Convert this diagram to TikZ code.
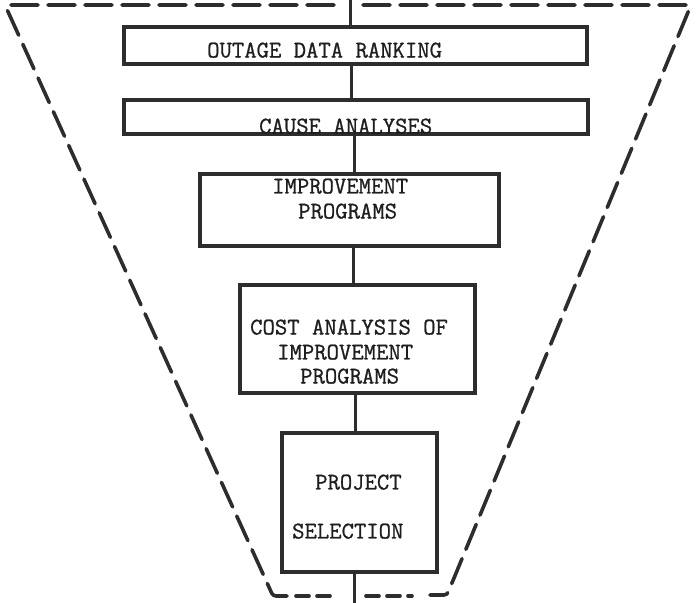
\documentclass[tikz,border=0pt]{standalone}
\usepackage{fontspec}
\newfontfamily\typewriter[FakeBold=0.9]{Latin Modern Mono}
\definecolor{ink}{RGB}{45,45,45}
\definecolor{txt}{RGB}{30,30,30}
\tikzset{
  stagebox/.style={draw=ink, line width=3.2pt, rectangle, inner sep=0pt},
  lbl/.style={anchor=west, inner sep=0pt, text depth=0pt, text=txt, font=\typewriter\fontsize{24}{24}\selectfont},
  link/.style={draw=ink, line width=3pt},
  funnel/.style={draw=ink, line width=3.6pt, line cap=round, line join=round, rounded corners=3pt, dash pattern=on 27pt off 10pt},
  funnelbot/.style={draw=ink, line width=3.6pt, line cap=round, dash pattern=on 13pt off 8pt}
}
\begin{document}
\begin{tikzpicture}[x=1pt, y=-1pt]
\useasboundingbox (0,0) rectangle (697,603);
% stage boxes
\node[stagebox, minimum width=463pt, minimum height=37pt] (b1) at (355.5,45.5) {};
\node[stagebox, minimum width=464pt, minimum height=34pt] (b2) at (356,117) {};
\node[stagebox, minimum width=299pt, minimum height=72pt] (b3) at (349.5,210) {};
\node[stagebox, minimum width=235pt, minimum height=108pt] (b4) at (357.5,339) {};
\node[stagebox, minimum width=155pt, minimum height=139pt] (b5) at (359.5,502.5) {};
% labels
\node[lbl] (t1) at (207,50) {OUTAGE DATA RANKING};
\node[lbl] (t2) at (259,126) {CAUSE ANALYSES};
\node[lbl] (t3a) at (272,186) {IMPROVEMENT};
\node[lbl] (t3b) at (298,211) {PROGRAMS};
\node[lbl] (t4a) at (250,327) {COST ANALYSIS OF};
\node[lbl] (t4b) at (277,352) {IMPROVEMENT};
\node[lbl] (t4c) at (300,376) {PROGRAMS};
\node[lbl] (t5a) at (315,482) {PROJECT};
\node[lbl] (t5b) at (292,531) {SELECTION};
% connectors
\coordinate (topend) at (350,0);
\coordinate (botend) at (354,603);
\coordinate (c12) at (351,0);
\coordinate (c23) at (354,0);
\coordinate (c34) at (353,0);
\coordinate (c45) at (355,0);
\draw[link] (topend) -- (topend |- b1.north);
\draw[link] (b1.south -| c12) -- (b2.north -| c12);
\draw[link] (b2.south -| c23) -- (b3.north -| c23);
\draw[link] (b3.south -| c34) -- (b4.north -| c34);
\draw[link] (b4.south -| c45) -- (b5.north -| c45);
\draw[link] (b5.south -| botend) -- (botend);
% funnel outline
\coordinate (tl) at (5,5);
\coordinate (tr) at (691,5);
\coordinate (bl) at (273,596);
\coordinate (br) at (447,595);
\draw[funnel] (334,5) -- (tl) -- (bl) -- (290,596);
\draw[funnel] (363,5) -- (tr) -- (br) -- (430,595);
\draw[funnelbot] (296,596) -- (331,596);
\draw[funnelbot] (366,596) -- (412,596);
\end{tikzpicture}
\end{document}
